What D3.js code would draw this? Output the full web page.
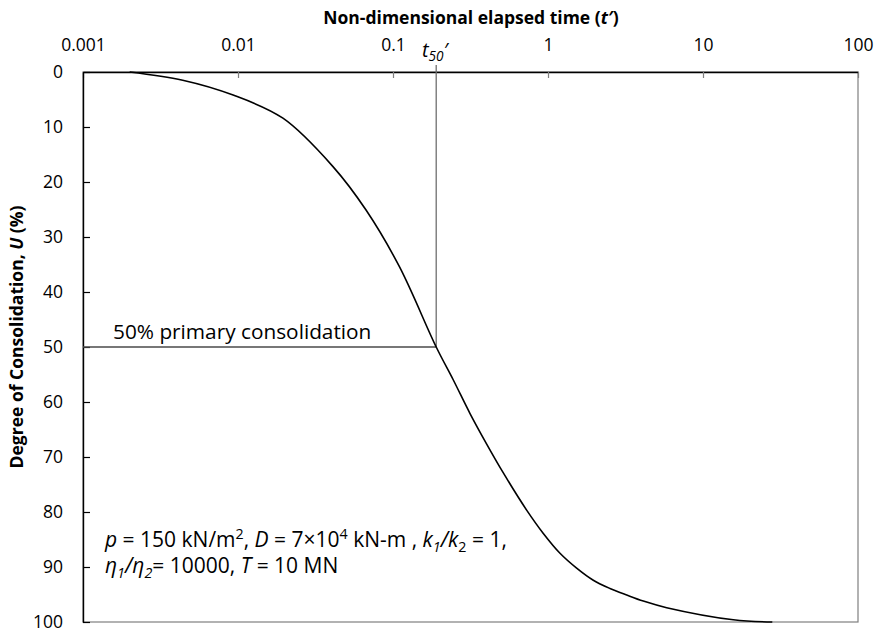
<!DOCTYPE html>
<html>
<head>
<meta charset="utf-8">
<script src="https://cdn.jsdelivr.net/npm/d3@7"></script>
<style>
  html, body { margin: 0; padding: 0; background: #fff; }
  svg { display: block; font-family: "Open Sans", sans-serif; }
</style>
</head>
<body>
<div id="chart"></div>
<script>
// Degree of consolidation vs non-dimensional elapsed time
const timeValues = [0.002, 0.0044, 0.0093, 0.0195, 0.041, 0.067, 0.11, 0.19, 0.245, 0.314, 0.403, 0.515, 0.73, 0.933, 1.195, 1.53, 1.96, 2.51, 3.22, 4.12, 5.83, 15.7, 28];
const consolidationValues = [0, 1.5, 4.2, 8.4, 17.2, 25.1, 35.4, 50, 56.0, 62.1, 67.7, 72.9, 79.7, 83.9, 87.5, 90.2, 92.4, 93.9, 95.1, 96.2, 97.4, 99.6, 100];
const xTicks = [0.001, 0.01, 0.1, 1, 10, 100];
const xTickLabels = ["0.001", "0.01", "0.1", "1", "10", "100"];
const yTicks = [0, 10, 20, 30, 40, 50, 60, 70, 80, 90, 100];
const t50 = 0.19;
const u50 = 50;

const width = 878, height = 632;
const margin = { top: 72, right: 20, bottom: 10, left: 83 };
const innerW = 775, innerH = 550;

const svg = d3.select("#chart").append("svg")
  .attr("width", width)
  .attr("height", height)
  .attr("viewBox", [0, 0, width, height]);

const x = d3.scaleLog().domain([0.001, 100]).range([0, innerW]);
const y = d3.scaleLinear().domain([0, 100]).range([0, innerH]);

const g = svg.append("g").attr("transform", `translate(${margin.left},${margin.top})`);

// plot area border (right / bottom)
g.append("rect")
  .attr("width", innerW)
  .attr("height", innerH)
  .attr("fill", "none")
  .attr("stroke", "#7f7f7f")
  .attr("stroke-width", 1.2);

// top axis (ticks point into the plot)
const xAxis = g.append("g")
  .call(d3.axisTop(x).tickValues(xTicks).tickSizeInner(-6).tickSizeOuter(0).tickPadding(21)
    .tickFormat((d, i) => xTickLabels[i]));
xAxis.select(".domain").attr("stroke", "#000").attr("stroke-width", 1.4);
xAxis.selectAll(".tick line").attr("stroke", "#7f7f7f").attr("stroke-width", 1.2);
xAxis.selectAll(".tick text")
  .attr("font-size", "17.5px")
  .attr("font-family", "Open Sans")
  .attr("fill", "#000");

// left axis
const yAxis = g.append("g")
  .call(d3.axisLeft(y).tickValues(yTicks).tickSizeInner(-7).tickSizeOuter(0).tickPadding(20));
yAxis.select(".domain").attr("stroke", "#000").attr("stroke-width", 1.4);
yAxis.selectAll(".tick line").attr("stroke", "#000").attr("stroke-width", 1.2);
yAxis.selectAll(".tick text")
  .attr("font-size", "17.5px")
  .attr("font-family", "Open Sans")
  .attr("fill", "#000");

// axis titles
svg.append("text")
  .attr("x", 471)
  .attr("y", 24)
  .attr("text-anchor", "middle")
  .attr("font-size", "17.5px")
  .attr("font-weight", "bold")
  .call(t => {
    t.append("tspan").text("Non-dimensional elapsed time (");
    t.append("tspan").attr("font-style", "italic").text("t′");
    t.append("tspan").text(")");
  });

svg.append("text")
  .attr("transform", "translate(23,337) rotate(-90)")
  .attr("text-anchor", "middle")
  .attr("font-size", "17.5px")
  .attr("font-weight", "bold")
  .call(t => {
    t.append("tspan").text("Degree of Consolidation, ");
    t.append("tspan").attr("font-style", "italic").text("U");
    t.append("tspan").text(" (%)");
  });

// t50 guide lines
g.append("line")
  .attr("x1", x(t50)).attr("x2", x(t50))
  .attr("y1", -7).attr("y2", y(u50))
  .attr("stroke", "#6f6f6f").attr("stroke-width", 1.3);
g.append("line")
  .attr("x1", 0).attr("x2", x(t50))
  .attr("y1", y(u50)).attr("y2", y(u50))
  .attr("stroke", "#4a4a4a").attr("stroke-width", 1.3);

// consolidation curve
const points = timeValues.map((t, i) => [t, consolidationValues[i]]);
const line = d3.line()
  .x(d => x(d[0]))
  .y(d => Math.min(y(d[1]), innerH))
  .curve(d3.curveCatmullRom.alpha(0.5));
g.append("path")
  .datum(points)
  .attr("d", line)
  .attr("fill", "none")
  .attr("stroke", "#000")
  .attr("stroke-width", 1.6);

// rich text helper: [text, style] with style in "", "i", "sub", "isub", "sup"
function richText(sel, parts, size) {
  let shift = 0;
  parts.forEach(([txt, style]) => {
    const ts = sel.append("tspan").text(txt);
    let target = 0;
    if (style && style.includes("sub")) target = size * 0.22;
    if (style === "sup") target = -size * 0.36;
    ts.attr("dy", target - shift);
    shift = target;
    if (style && style.includes("i")) ts.attr("font-style", "italic");
    if (style && (style.includes("sub") || style === "sup")) ts.attr("font-size", size * 0.68 + "px");
  });
}

// t50' label
svg.append("text")
  .attr("x", 422)
  .attr("y", 57)
  .attr("font-size", "20px")
  .call(t => richText(t, [["t", "i"], ["50", "isub"], ["′", "i"]], 20));

// 50% primary consolidation
g.append("text")
  .attr("x", 30)
  .attr("y", y(u50) - 8)
  .attr("font-size", "20.8px")
  .text("50% primary consolidation");

// parameters
const params = g.append("text")
  .attr("font-size", "21px");
params.append("tspan").attr("x", 22).attr("y", 475)
  .call(t => richText(t, [
    ["p", "i"], [" = 150 kN/m", ""], ["2", "sup"], [", ", ""], ["D", "i"], [" = 7×10", ""], ["4", "sup"],
    [" kN-m , ", ""], ["k", "i"], ["1", "isub"], ["/", "i"], ["k", "i"], ["2", "sub"], [" = 1,", ""]
  ], 21));
params.append("tspan").attr("x", 22).attr("y", 501)
  .call(t => richText(t, [
    ["η", "i"], ["1", "isub"], ["/", "i"], ["η", "i"], ["2", "isub"], ["= 10000, ", ""], ["T", "i"], [" = 10 MN", ""]
  ], 21));
</script>
</body>
</html>
